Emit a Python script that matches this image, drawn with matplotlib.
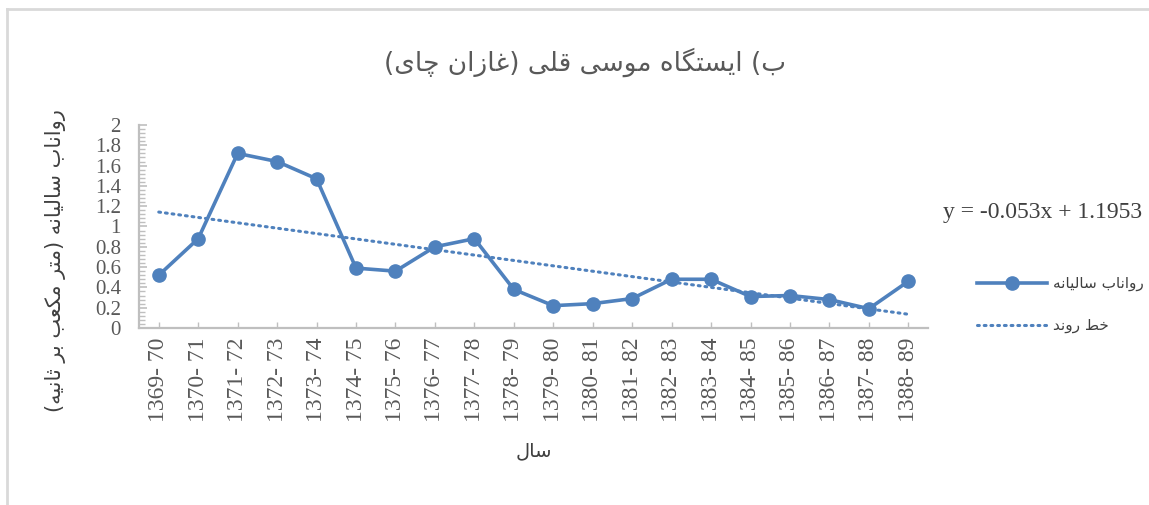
import matplotlib
matplotlib.use("Agg")
import matplotlib.pyplot as plt
from matplotlib.lines import Line2D
from matplotlib.ticker import MultipleLocator, FuncFormatter
import numpy as np

# data
years = ["1369- 70", "1370- 71", "1371- 72", "1372- 73", "1373- 74",
         "1374- 75", "1375- 76", "1376- 77", "1377- 78", "1378- 79",
         "1379- 80", "1380- 81", "1381- 82", "1382- 83", "1383- 84",
         "1384- 85", "1385- 86", "1386- 87", "1387- 88", "1388- 89"]
runoff = [0.52, 0.88, 1.72, 1.64, 1.47, 0.59, 0.56, 0.80, 0.88, 0.38,
          0.22, 0.24, 0.29, 0.48, 0.48, 0.31, 0.32, 0.28, 0.19, 0.46]
trend_slope = -0.053
trend_intercept = 1.1953

title_txt = "ب) ایستگاه موسی قلی (غازان چای)"
ylabel_txt = "رواناب سالیانه (متر مکعب بر ثانیه)"
xlabel_txt = "سال"
legend_txt = ["رواناب سالیانه", "خط روند"]
eq_txt = "y = -0.053x + 1.1953"

# --- tiny arabic/persian shaper (matplotlib does no shaping / bidi) ---
# isolated, final, initial, medial
FORMS = {
    'ا': (0xFE8D, 0xFE8E, None, None),
    'ب': (0xFE8F, 0xFE90, 0xFE91, 0xFE92),
    'ت': (0xFE95, 0xFE96, 0xFE97, 0xFE98),
    'ث': (0xFE99, 0xFE9A, 0xFE9B, 0xFE9C),
    'خ': (0xFEA5, 0xFEA6, 0xFEA7, 0xFEA8),
    'د': (0xFEA9, 0xFEAA, None, None),
    'ر': (0xFEAD, 0xFEAE, None, None),
    'ز': (0xFEAF, 0xFEB0, None, None),
    'س': (0xFEB1, 0xFEB2, 0xFEB3, 0xFEB4),
    'ط': (0xFEC1, 0xFEC2, 0xFEC3, 0xFEC4),
    'ع': (0xFEC9, 0xFECA, 0xFECB, 0xFECC),
    'غ': (0xFECD, 0xFECE, 0xFECF, 0xFED0),
    'ق': (0xFED5, 0xFED6, 0xFED7, 0xFED8),
    'ل': (0xFEDD, 0xFEDE, 0xFEDF, 0xFEE0),
    'م': (0xFEE1, 0xFEE2, 0xFEE3, 0xFEE4),
    'ن': (0xFEE5, 0xFEE6, 0xFEE7, 0xFEE8),
    'ه': (0xFEE9, 0xFEEA, 0xFEEB, 0xFEEC),
    'و': (0xFEED, 0xFEEE, None, None),
    'ی': (0xFBFC, 0xFBFD, 0xFBFE, 0xFBFF),
    'ک': (0xFB8E, 0xFB8F, 0xFB90, 0xFB91),
    'گ': (0xFB92, 0xFB93, 0xFB94, 0xFB95),
    'چ': (0xFB7A, 0xFB7B, 0xFB7C, 0xFB7D),
}
MIRROR = {'(': ')', ')': '('}


def fa(s):
    out = []
    for i, c in enumerate(s):
        f = FORMS.get(c)
        if f is None:
            out.append(MIRROR.get(c, c))
            continue
        prev = s[i - 1] if i > 0 else ''
        nxt = s[i + 1] if i + 1 < len(s) else ''
        jp = prev in FORMS and FORMS[prev][2] is not None
        jn = f[2] is not None and nxt in FORMS
        if jp and jn:
            cp = f[3]
        elif jp:
            cp = f[1]
        elif jn:
            cp = f[2]
        else:
            cp = f[0]
        out.append(chr(cp))
    return ''.join(out)[::-1]


blue = "#4F81BD"
grey_txt = "#595959"
axis_col = "#BFBFBF"
serif = "Liberation Serif"
fa_font = "DejaVu Sans"

fig = plt.figure(figsize=(11.49, 5.05), dpi=100)
ax = fig.add_axes([0.121, 0.3505, 0.6867, 0.402])

x = np.arange(1, len(runoff) + 1)
ax.plot(x, runoff, color=blue, lw=2.6, marker="o", ms=9.5, zorder=3)
trend = trend_intercept + trend_slope * x
ax.plot(x, trend, color=blue, lw=2.2, ls=(0, (0.6, 1.6)),
        dash_capstyle="round", zorder=2)

ax.set_xlim(0.5, len(runoff) + 0.5)
ax.set_ylim(0, 2)
ax.yaxis.set_major_locator(MultipleLocator(0.2))
ax.yaxis.set_minor_locator(MultipleLocator(0.04))
ax.yaxis.set_major_formatter(FuncFormatter(lambda v, p: f"{v:g}"))
ax.set_xticks(x)
ax.set_xticklabels(years, rotation=90, fontfamily=serif, fontsize=17,
                   color=grey_txt)
for t in ax.get_yticklabels():
    t.set_fontfamily(serif)
    t.set_fontsize(15)
    t.set_color(grey_txt)
ax.tick_params(axis="y", which="major", direction="in", length=6,
               width=1.2, color=axis_col, pad=13)
ax.tick_params(axis="y", which="minor", direction="in", length=4,
               width=1.0, color=axis_col)
ax.tick_params(axis="x", direction="in", length=4, width=1.0,
               color=axis_col, pad=7)

for s in ["top", "right"]:
    ax.spines[s].set_visible(False)
for s in ["left", "bottom"]:
    ax.spines[s].set_color(axis_col)
    ax.spines[s].set_linewidth(1.6)

fig.text(0.048, 0.485, fa(ylabel_txt), rotation=90, ha="center",
         va="center", fontfamily=fa_font, fontsize=15, color="#404040")
ax.set_xlabel(fa(xlabel_txt), fontfamily=fa_font, fontsize=14,
              color="#404040", labelpad=14)

fig.text(0.509, 0.877, fa(title_txt), ha="center", va="center",
         fontfamily=fa_font, fontsize=19, color=grey_txt)
fig.text(0.821, 0.58, eq_txt, ha="left", va="center",
         fontfamily=serif, fontsize=17, color="#404040")

handles = [Line2D([], [], color=blue, lw=2.6, marker="o", ms=9.5),
           Line2D([], [], color=blue, lw=2.2, ls=(0, (0.6, 1.6)),
                  dash_capstyle="round")]
fig.legend(handles, [fa(t) for t in legend_txt], loc="center left",
           bbox_to_anchor=(0.838, 0.397), frameon=False,
           prop={"family": fa_font, "size": 11}, labelcolor="#404040",
           handlelength=4.6, handletextpad=0.4, labelspacing=1.75)

# light frame of the chart area (cut at right and bottom)
fig.add_artist(Line2D([0.0065, 0.0065], [0, 0.982], color="#D9D9D9",
                      lw=2, transform=fig.transFigure))
fig.add_artist(Line2D([0.0065, 1], [0.982, 0.982], color="#D9D9D9",
                      lw=2, transform=fig.transFigure))

fig.savefig("out.png", dpi=100)
